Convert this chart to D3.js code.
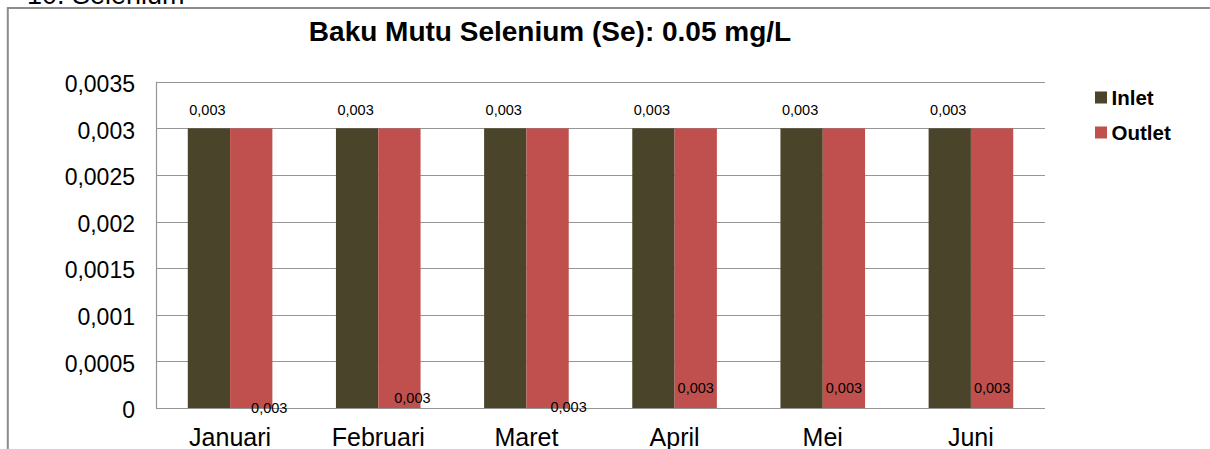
<!DOCTYPE html>
<html>
<head>
<meta charset="utf-8">
<script src="https://cdn.jsdelivr.net/npm/d3@7"></script>
<style>
  html, body { margin: 0; padding: 0; background: #fff; overflow: hidden; }
  svg { display: block; font-family: "Liberation Sans", Arial, sans-serif; }
</style>
</head>
<body>
<svg id="chart" width="1210" height="449"></svg>
<script>
// ---- data ----
const categories = ["Januari", "Februari", "Maret", "April", "Mei", "Juni"];
const seriesNames = ["Inlet", "Outlet"];
const inletValues = [0.003, 0.003, 0.003, 0.003, 0.003, 0.003];
const outletValues = [0.003, 0.003, 0.003, 0.003, 0.003, 0.003];
const inletLabels = ["0,003", "0,003", "0,003", "0,003", "0,003", "0,003"];
const outletLabels = ["0,003", "0,003", "0,003", "0,003", "0,003", "0,003"];
const tickValues = [0, 0.0005, 0.001, 0.0015, 0.002, 0.0025, 0.003, 0.0035];
const tickLabels = ["0", "0,0005", "0,001", "0,0015", "0,002", "0,0025", "0,003", "0,0035"];
const titleText = "Baku Mutu Selenium (Se): 0.05 mg/L";
const headingText = "10. Selenium";

// ---- layout / style (kept apart from data) ----
const colors = { Inlet: "#4A452A", Outlet: "#C0504D" };
const plot = { left: 156, right: 1045, top: 81.7, bottom: 408 };
// offsets of the (misplaced) outlet data labels, in px
const outletNudgeX = [18, 13, 21, 0, 0, 0];
const outletNudgeY = [5, -5, 4, -15, -15, -15];

const svg = d3.select("#chart");

// outer frame
svg.append("rect")
  .attr("x", 7.8).attr("y", 8).attr("width", 1230).attr("height", 480)
  .attr("fill", "none").attr("stroke", "#8c8c8c").attr("stroke-width", 2);

// cut-off heading
svg.append("text")
  .attr("x", 27).attr("y", 4)
  .attr("font-size", 27).attr("fill", "#000")
  .text(headingText);

// title
svg.append("text")
  .attr("x", 550).attr("y", 40.5)
  .attr("text-anchor", "middle")
  .attr("font-size", 28).attr("font-weight", "bold").attr("fill", "#000")
  .text(titleText);

const x0 = d3.scaleBand().domain(categories).range([plot.left, plot.right]).padding(0);
const bw = x0.bandwidth();
const x1 = d3.scaleBand().domain(seriesNames).range([bw * 0.2145, bw * 0.7855]).padding(0);
const y = d3.scaleLinear().domain([0, 0.0035]).range([plot.bottom, plot.top]);

// gridlines
svg.append("g").selectAll("line")
  .data(tickValues)
  .join("line")
  .attr("x1", plot.left).attr("x2", plot.right)
  .attr("y1", d => Math.round(y(d)) + 0.5).attr("y2", d => Math.round(y(d)) + 0.5)
  .attr("stroke", "#969696").attr("stroke-width", 1.2);

// y tick labels
svg.append("g").selectAll("text")
  .data(tickValues)
  .join("text")
  .attr("x", 135).attr("y", d => y(d) + 10.3)
  .attr("text-anchor", "end")
  .attr("font-size", 23).attr("fill", "#000")
  .text((d, i) => tickLabels[i]);

// bars
const rows = categories.map((c, i) => ({ cat: c, i, Inlet: inletValues[i], Outlet: outletValues[i] }));
const groups = svg.append("g").selectAll("g")
  .data(rows)
  .join("g")
  .attr("transform", d => `translate(${x0(d.cat)},0)`);

groups.selectAll("rect")
  .data(d => seriesNames.map(s => ({ s, v: d[s] })))
  .join("rect")
  .attr("x", d => x1(d.s))
  .attr("width", x1.bandwidth())
  .attr("y", d => y(d.v))
  .attr("height", d => y(0) - y(d.v))
  .attr("fill", d => colors[d.s]);

// left axis line
svg.append("line")
  .attr("x1", plot.left + 0.5).attr("x2", plot.left + 0.5)
  .attr("y1", plot.top).attr("y2", plot.bottom)
  .attr("stroke", "#969696").attr("stroke-width", 1.2);

// inlet labels (above bars)
groups.append("text")
  .attr("x", d => x1("Inlet") + x1.bandwidth() / 2 - 1.5)
  .attr("y", d => y(d.Inlet) - 13.3)
  .attr("text-anchor", "middle")
  .attr("font-size", 14.5).attr("fill", "#000")
  .text(d => inletLabels[d.i]);

// outlet labels (near the base)
groups.append("text")
  .attr("x", d => x1("Outlet") + x1.bandwidth() / 2 + outletNudgeX[d.i])
  .attr("y", d => y(0) + outletNudgeY[d.i])
  .attr("text-anchor", "middle")
  .attr("font-size", 14.5).attr("fill", "#000")
  .text(d => outletLabels[d.i]);

// x axis category labels
svg.append("g").selectAll("text")
  .data(categories)
  .join("text")
  .attr("x", d => x0(d) + bw / 2)
  .attr("y", 446)
  .attr("text-anchor", "middle")
  .attr("font-size", 25).attr("fill", "#000")
  .text(d => d);

// legend
const legend = svg.append("g").selectAll("g")
  .data(seriesNames)
  .join("g")
  .attr("transform", (d, i) => `translate(1095,${91.5 + i * 35})`);
legend.append("rect")
  .attr("width", 12).attr("height", 12)
  .attr("fill", d => colors[d]);
legend.append("text")
  .attr("x", 16.5).attr("y", 13.5)
  .attr("font-size", 20.5).attr("font-weight", "bold").attr("fill", "#000")
  .text(d => d);
</script>
</body>
</html>
